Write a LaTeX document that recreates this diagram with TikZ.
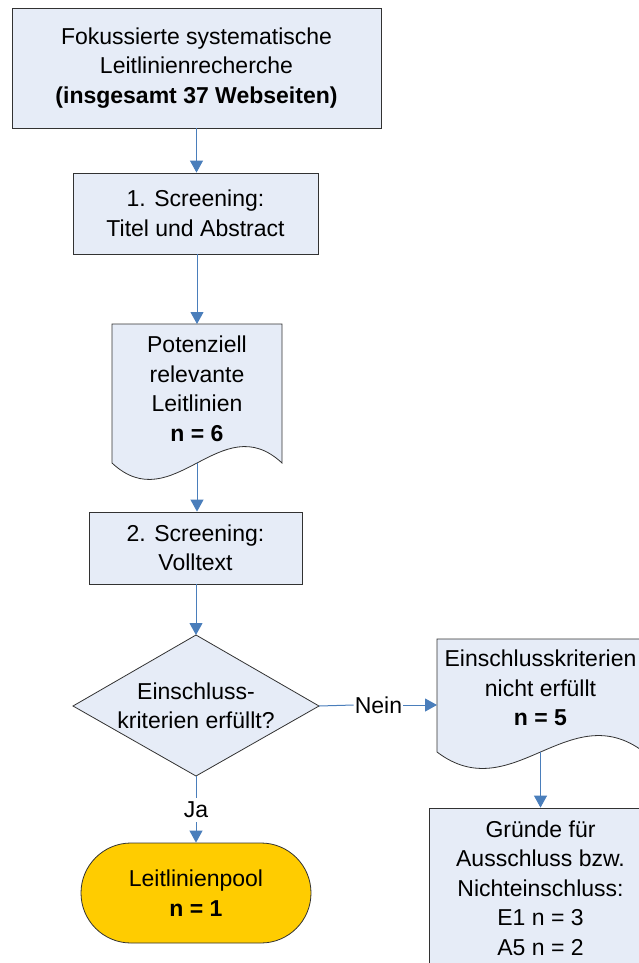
\documentclass[tikz,border=0pt]{standalone}
\usepackage{fontspec}
\setmainfont{Liberation Sans}
\usetikzlibrary{arrows.meta}
\definecolor{boxfill}{RGB}{230,236,247}
\definecolor{linkblue}{RGB}{74,126,187}
\definecolor{poolyellow}{RGB}{255,204,0}
\definecolor{edgegray}{RGB}{50,50,50}
\begin{document}
\begin{tikzpicture}[x=1pt,y=-1pt,
  txt/.style={font=\fontsize{23}{29.5}\selectfont, align=center, text=black},
  box/.style={txt, draw=edgegray, fill=boxfill, line width=0.8pt, inner sep=0pt},
  shapeline/.style={draw=edgegray, fill=boxfill, line width=0.8pt},
  flow/.style={draw=linkblue, line width=1pt, -{Triangle[length=12pt,width=13pt]}},
  plain/.style={draw=linkblue, line width=1pt},
  lbl/.style={txt, inner sep=1pt}]
\useasboundingbox (0,0) rectangle (639,963);
\clip (0,0) rectangle (639,963);

% top box
\node[box, minimum width=369pt, minimum height=120pt] (top) at (196.5,68)
  {Fokussierte systematische\\Leitlinienrecherche\\\textbf{(insgesamt 37 Webseiten)}};
% screening 1
\node[box, minimum width=245pt, minimum height=81pt] (s1) at (195.5,213.5)
  {1. Screening:\\Titel und Abstract};
% document 1
\coordinate (doc1top) at (197,324);
\coordinate (doc1bot) at (197,463);
\draw[shapeline] (112,324) -- (282,324) -- (282,463)
  .. controls (221,406) and (173,520) .. (112,463) -- cycle;
\node[txt] (doc1) at (197,389) {Potenziell\\relevante\\Leitlinien\\\textbf{n = 6}};
% screening 2
\node[box, minimum width=213pt, minimum height=72pt] (s2) at (195.5,548)
  {2. Screening:\\Volltext};
% diamond
\coordinate (dT) at (196,635);
\coordinate (dR) at (319,706);
\coordinate (dB) at (196,776);
\coordinate (dL) at (73,706);
\draw[shapeline] (dT) -- (dR) -- (dB) -- (dL) -- cycle;
\node[txt] (dia) at (196,706) {Einschluss-\\kriterien erfüllt?};
% document 2
\coordinate (doc2L) at (437,705);
\coordinate (doc2bot) at (540.5,752);
\draw[shapeline] (437,639) -- (644,639) -- (644,752)
  .. controls (569,695) and (512,809) .. (437,752) -- cycle;
\node[txt] (doc2) at (540.5,688) {Einschlusskriterien\\nicht erfüllt\\\textbf{n = 5}};
% reasons box
\node[box, minimum width=222pt, minimum height=160pt] (why) at (540.5,888)
  {Gründe für\\Ausschluss bzw.\\Nichteinschluss:\\E1 n = 3\\A5 n = 2};
% terminal
\node[txt, draw=edgegray, fill=poolyellow, line width=0.8pt, rounded corners=50pt,
  minimum width=230pt, minimum height=100pt, inner sep=0pt] (pool) at (196,893)
  {Leitlinienpool\\\textbf{n = 1}};

% labels
\node[lbl] (nein) at (378.5,705) {Nein};
\node[lbl, inner sep=4pt] (ja) at (196,810) {Ja};

% connectors
\draw[flow] (top.south) -- (top.south |- s1.north);
\draw[flow] (s1.south -| doc1top) -- (doc1top);
\draw[flow] (doc1bot) -- (doc1bot |- s2.north);
\draw[flow] (s2.south -| dT) -- (dT);
\draw[plain] (dR) -- (nein.west);
\draw[flow] (nein.east) -- (doc2L);
\draw[plain] (dB) -- (ja.north);
\draw[flow] (ja.south) -- (pool.north);
\draw[flow] (doc2bot) -- (why.north);
\end{tikzpicture}
\end{document}
